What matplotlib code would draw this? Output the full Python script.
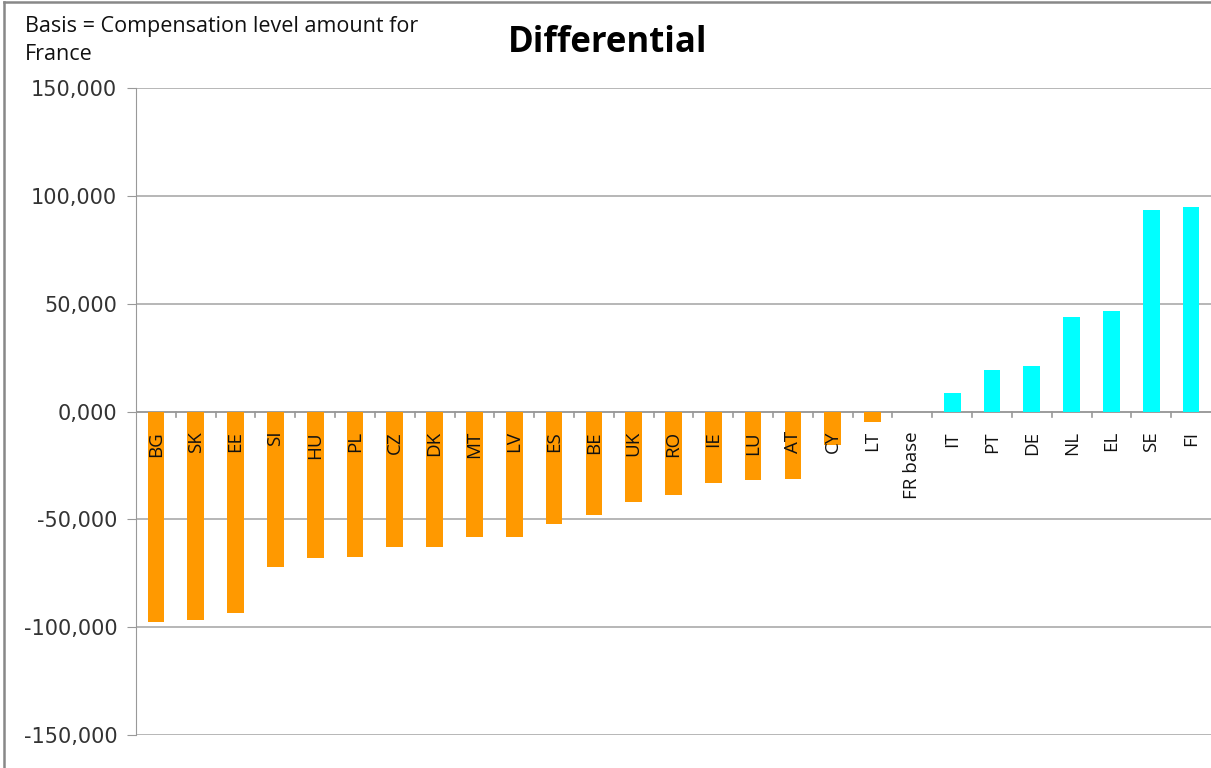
import numpy as np
import matplotlib.pyplot as plt
from matplotlib.lines import Line2D

# Data
countries = ['BG', 'SK', 'EE', 'SI', 'HU', 'PL', 'CZ', 'DK', 'MT', 'LV', 'ES', 'BE', 'UK',
             'RO', 'IE', 'LU', 'AT', 'CY', 'LT', 'FR base', 'IT', 'PT', 'DE', 'NL', 'EL', 'SE', 'FI']
differential = [-97800, -96700, -93200, -72000, -67700, -67400, -63000, -63000, -58400, -58400,
                -52200, -47900, -42000, -38600, -33000, -31800, -31200, -15500, -4900, 0,
                8400, 19200, 21200, 43700, 46700, 93500, 94600]
y_ticks = [-150000, -100000, -50000, 0, 50000, 100000, 150000]
y_tick_labels = ['-150,000', '-100,000', '-50,000', '0,000', '50,000', '100,000', '150,000']

fig = plt.figure(figsize=(12.11, 7.68), dpi=100)
ax = fig.add_axes([136 / 1211, 33 / 768, 1075 / 1211, 647 / 768])

x = np.arange(len(countries))
colors = ['#FF9900' if v < 0 else '#00FFFF' for v in differential]
ax.bar(x, differential, width=0.42, color=colors, zorder=3)

ax.set_xlim(-0.5, len(countries) - 0.5)
ax.set_ylim(-150000, 150000)
ax.set_yticks(y_ticks)
ax.set_yticklabels(y_tick_labels, fontsize=15, color='#333333', family='DejaVu Sans')
ax.tick_params(axis='y', length=6.5, color='#999999', pad=7)
ax.set_xticks([])
ax.grid(axis='y', color='#aaaaaa', linewidth=1.2, zorder=0)

for s in ['top', 'right', 'bottom']:
    ax.spines[s].set_visible(False)
ax.spines['left'].set_color('#999999')

# zero axis with category tick marks
ax.axhline(0, color='#999999', linewidth=1.2, zorder=2)
for b in np.arange(0.5, len(countries) - 1, 1):
    ax.plot([b, b], [0, -2500], color='#999999', linewidth=1.2, zorder=2)

# category labels next to the axis
for xi, name in zip(x, countries):
    ax.text(xi, -9000, name, rotation=90, ha='center', va='top', fontsize=13.5,
            family='Open Sans', color='#111111', zorder=4)

fig.text(608 / 1211, 1 - 43 / 768, 'Differential', ha='center', va='center',
         fontsize=25, fontweight='bold', family='Open Sans')
fig.text(25 / 1211, 1 - 16 / 768, 'Basis = Compensation level amount for\nFrance',
         ha='left', va='top', fontsize=15.5, family='Open Sans', color='#111111',
         linespacing=1.45)

# outer frame
fig.add_artist(Line2D([4 / 1211, 4 / 1211], [0, 1 - 2 / 768], color='#888888', linewidth=1.8))
fig.add_artist(Line2D([4 / 1211, 1], [1 - 2 / 768, 1 - 2 / 768], color='#888888', linewidth=1.8))

fig.savefig('out.png', dpi=100)
